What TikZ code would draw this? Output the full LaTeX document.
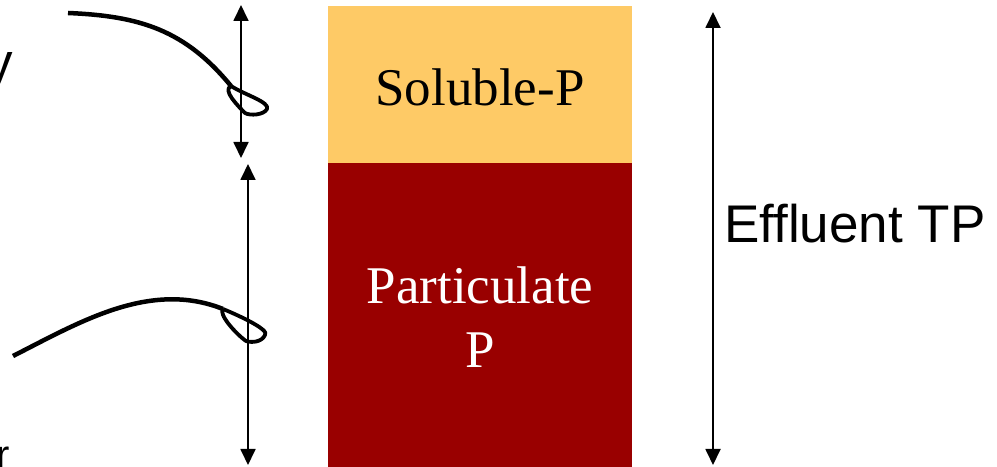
\documentclass[tikz,border=0pt]{standalone}
\usepackage{fontspec}
\setmainfont{Liberation Serif}
\newfontfamily\arialfont{Liberation Sans}
\usetikzlibrary{arrows.meta}
\definecolor{solyellow}{HTML}{FECA66}
\definecolor{partred}{HTML}{990000}
\tikzset{
  boxbase/.style={rectangle, inner sep=0pt, minimum width=304bp, draw=none},
  solbox/.style={boxbase, fill=solyellow, minimum height=157bp},
  partbox/.style={boxbase, fill=partred, minimum height=304bp},
  serifbig/.style={inner sep=0pt, font=\fontsize{53bp}{64bp}\selectfont},
  sansbig/.style={inner sep=0pt, font=\arialfont\fontsize{53bp}{62bp}\selectfont},
  dimarrow/.style={line width=1.8bp, {Triangle[length=16bp,width=15bp]}-{Triangle[length=16bp,width=15bp]}},
  weir/.style={line width=4.5bp, line join=round},
  weirloop/.style={line width=3.8bp, line join=round}
}
\begin{document}
\begin{tikzpicture}[x=1bp,y=-1bp]
\useasboundingbox (0,0) rectangle (997,467);
\clip (0,0) rectangle (997,467);
% boxes
\node[solbox] (sol) at (480,84.5) {};
\node[partbox] (part) at (480,315) {};
\node[serifbig, anchor=base] (soltxt) at (480,106) {Soluble-P};
\node[serifbig, text=white, align=center, anchor=center] (parttxt) at (480,317.5) {Particulate\\P};
% effluent TP
\node[sansbig, anchor=base west] (eff) at (724,243) {Effluent TP};
% arrows
\coordinate (a1t) at (241,5);
\coordinate (a1b) at (241,158);
\coordinate (a2t) at (248,164);
\coordinate (a2b) at (248,465);
\coordinate (a3t) at (713,12);
\coordinate (a3b) at (713,465);
\draw[dimarrow] (a1t) -- (a1b);
\draw[dimarrow] (a2t) -- (a2b);
\draw[dimarrow] (a3t) -- (a3b);
% upper curve with loop
\coordinate (c1s) at (68,13);
\coordinate (c1e) at (231,86);
\draw[weir] (c1s) .. controls (140,16) and (185,30) .. (c1e);
\draw[weirloop] (c1e) .. controls (245,95) and (270,102) .. (267,109)
  .. controls (264,115) and (250,116) .. (245,113)
  .. controls (238,106) and (222,90) .. (c1e);
% lower curve with loop
\coordinate (c2s) at (13,356);
\coordinate (c2e) at (223,309);
\draw[weir] (c2s) .. controls (80,322) and (150,280) .. (c2e);
\draw[weirloop] (c2e) .. controls (240,316) and (270,330) .. (265,335)
  .. controls (262,342) and (252,343) .. (246,341)
  .. controls (236,334) and (218,314) .. (c2e);
% cut-off text fragments at the left edge
\node[sansbig, anchor=base west] (fragy) at (-14,81) {y};
\node[inner sep=0pt, font=\arialfont\fontsize{40bp}{48bp}\selectfont, anchor=base west] (fragr) at (-3.6,468) {r};
\end{tikzpicture}
\end{document}
